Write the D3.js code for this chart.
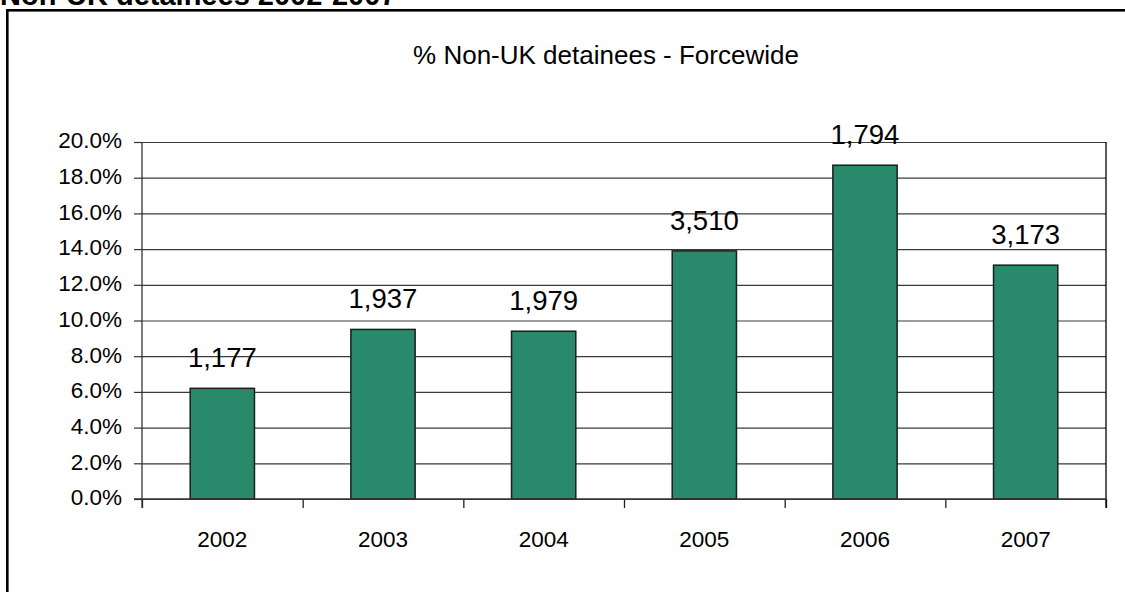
<!DOCTYPE html>
<html>
<head>
<meta charset="utf-8">
<script src="https://cdn.jsdelivr.net/npm/d3@7"></script>
<style>
  body { margin: 0; background: #fff; }
  svg { display: block; font-family: "Liberation Sans", Arial, sans-serif; }
</style>
</head>
<body>
<svg></svg>
<script>
// chart data
let years = ['2002', '2003', '2004', '2005', '2006', '2007'];
let pctNonUK = [6.2, 9.5, 9.4, 13.9, 18.7, 13.1]; // % of detainees
let detainees = [1177, 1937, 1979, 3510, 1794, 3173]; // label on each bar
let yTicks = [0, 2, 4, 6, 8, 10, 12, 14, 16, 18, 20];

let w = 1125;
let h = 592;
let plotL = 142, plotR = 1106, plotT = 142, plotB = 499;

let svg = d3.select('svg').attr('width', w).attr('height', h);

// outer chart border (runs off the picture on right and bottom)
svg.append('rect')
   .attr('x', 7.3).attr('y', 10.3)
   .attr('width', 1300).attr('height', 800)
   .attr('fill', 'none')
   .attr('stroke', '#000')
   .attr('stroke-width', 2.6);

// sheet heading, cut off at the top
svg.append('text')
   .attr('x', 0).attr('y', 5)
   .style('font-size', '29px')
   .style('font-weight', 'bold')
   .text('Non-UK detainees 2002-2007');

svg.append('text')
   .attr('x', 606).attr('y', 64)
   .attr('text-anchor', 'middle')
   .style('font-size', '26px')
   .text('% Non-UK detainees - Forcewide');

let x = d3.scaleBand()
          .domain(years)
          .range([plotL, plotR])
          .paddingInner(0.6)
          .paddingOuter(0.3);

let y = d3.scaleLinear()
          .domain([0, 20])
          .range([plotB, plotT]);

// gridlines
let grid = svg.append('g')
   .attr('transform', 'translate(' + plotL + ',0)')
   .call(d3.axisLeft(y).tickValues(yTicks).tickSize(-(plotR - plotL)).tickSizeOuter(0).tickFormat(''));
grid.select('.domain').remove();
grid.selectAll('line').attr('stroke', '#3a3a3a').attr('stroke-width', 1.2);

// y axis with labels
let yAxis = svg.append('g')
   .attr('transform', 'translate(' + plotL + ',0)')
   .call(d3.axisLeft(y).tickValues(yTicks).tickSize(8).tickSizeOuter(0).tickPadding(12)
           .tickFormat(d => d.toFixed(1) + '%'));
yAxis.select('.domain').remove();
yAxis.selectAll('line').attr('stroke', '#333').attr('stroke-width', 1.2);
yAxis.selectAll('text')
     .attr('dy', '0.26em')
     .style('font-size', '22.5px')
     .style('font-family', '"Liberation Sans", Arial, sans-serif')
     .attr('fill', '#000');

// category boundary ticks
let xEdge = d3.scaleLinear().domain([0, years.length]).range([plotL, plotR]);
let xTickAxis = svg.append('g')
   .attr('transform', 'translate(0,' + plotB + ')')
   .call(d3.axisBottom(xEdge).ticks(years.length).tickSize(9).tickSizeOuter(0).tickFormat(''));
xTickAxis.select('.domain').remove();
xTickAxis.selectAll('line').attr('stroke', '#222').attr('stroke-width', 1.3);

// bars
svg.selectAll('rect.bar')
   .data(years)
   .enter()
   .append('rect')
   .attr('class', 'bar')
   .attr('x', d => x(d))
   .attr('width', x.bandwidth())
   .attr('y', (d, i) => y(pctNonUK[i]))
   .attr('height', (d, i) => plotB - y(pctNonUK[i]))
   .attr('fill', '#288a6a')
   .attr('stroke', '#1c1c1c')
   .attr('stroke-width', 1.5);

// axis lines
svg.append('line')
   .attr('x1', plotL).attr('x2', plotL)
   .attr('y1', plotT).attr('y2', plotB + 9)
   .attr('stroke', '#333').attr('stroke-width', 1.3);
svg.append('line')
   .attr('x1', plotR).attr('x2', plotR)
   .attr('y1', plotT).attr('y2', plotB + 9)
   .attr('stroke', '#000').attr('stroke-width', 1.3);
svg.append('line')
   .attr('x1', plotL - 8).attr('x2', plotR)
   .attr('y1', plotB).attr('y2', plotB)
   .attr('stroke', '#333').attr('stroke-width', 1.3);

// year labels
let xAxis = svg.append('g')
   .attr('transform', 'translate(0,' + plotB + ')')
   .call(d3.axisBottom(x).tickSize(0).tickPadding(32));
xAxis.select('.domain').remove();
xAxis.selectAll('text')
     .style('font-size', '22.5px')
     .style('font-family', '"Liberation Sans", Arial, sans-serif')
     .attr('fill', '#000');

// data labels
let fmt = d3.format(',');
svg.selectAll('text.val')
   .data(years)
   .enter()
   .append('text')
   .attr('class', 'val')
   .attr('x', d => x(d) + x.bandwidth() / 2)
   .attr('y', (d, i) => y(pctNonUK[i]) - 21)
   .attr('text-anchor', 'middle')
   .style('font-size', '27.5px')
   .text((d, i) => fmt(detainees[i]));
</script>
</body>
</html>
